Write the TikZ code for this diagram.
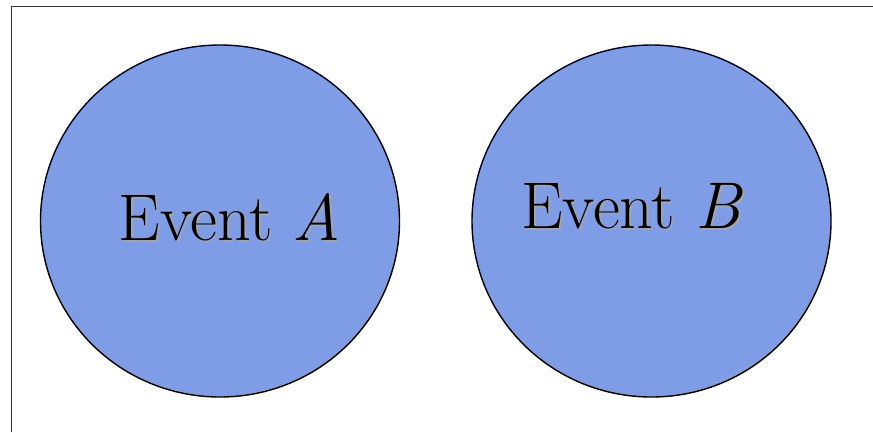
\documentclass[tikz,border=0pt]{standalone}
\usepackage{tikz}
\usetikzlibrary{shapes.geometric}

\definecolor{eventblue}{RGB}{127,157,231}
\definecolor{shadowgray}{RGB}{165,165,165}

\begin{document}
\begin{tikzpicture}[
		x=1pt, y=-1pt,
		event/.style={draw, line width=1.4pt, fill=eventblue, ellipse, minimum width=359pt, minimum height=352pt, inner sep=0pt},
		lbl/.style={font=\fontsize{66}{78}\selectfont, inner sep=0pt, anchor=base},
		lblshadow/.style={lbl, text=shadowgray}
		]
		\useasboundingbox (0,0) rectangle (873,432);
		\draw[line width=0.8pt, black!80] (11.5,432) -- (11.5,6.5) -- (873,6.5);
		
		\node[event] (A) at (220,221) {};
		\node[event] (B) at (651.5,221) {};
		
		\node[lblshadow] (sa) at (231.5,242.5) {Event \textit{A}};
		\node[lbl] (ta) at (229.5,240) {Event \textit{A}};
		\node[lblshadow] (sb) at (634,230.5) {Event \textit{B}};
		\node[lbl] (tb) at (632,228) {Event \textit{B}};
	\end{tikzpicture}
\end{document}
